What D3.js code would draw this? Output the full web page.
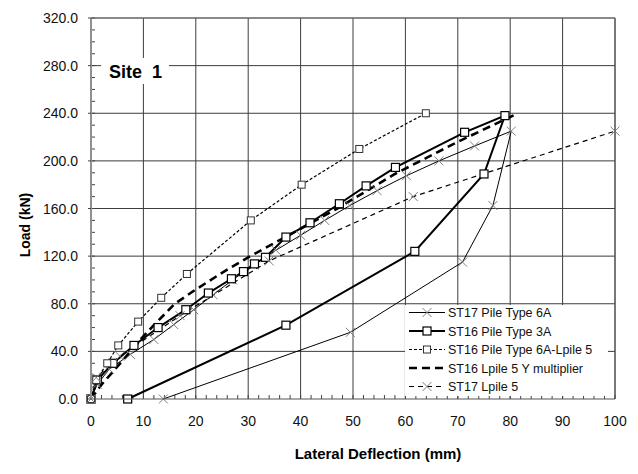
<!DOCTYPE html>
<html>
<head>
<meta charset="utf-8">
<script src="https://cdn.jsdelivr.net/npm/d3@7"></script>
<style>
  body { margin: 0; background: #fff; }
  text { font-family: Arial, "Liberation Sans", sans-serif; }
</style>
</head>
<body>
<div id="chart"></div>
<script>
// series data (deflection mm, load kN)
const st17Type6A_x = [0, 1.2, 3.5, 7.5, 12, 15.8, 19.6, 23.3, 27, 31.1, 35.3, 40, 44.6, 49.4, 54.6, 60.2, 66.4, 73.2, 80.2, 76.7, 70.9, 49.5, 13.8];
const st17Type6A_y = [0, 12.5, 25, 37.5, 50, 62.5, 75, 87.5, 100, 112.5, 125, 137.5, 150, 162.5, 175, 187.5, 200, 212.5, 225, 162.5, 115, 56, 0];

const st16Type3A_x = [0, 1.2, 4.2, 8.2, 12.8, 18.1, 22.4, 26.8, 29.1, 31.2, 33.3, 37.2, 41.8, 47.4, 52.5, 58.1, 71.3, 79, 75, 61.8, 37.2, 7];
const st16Type3A_y = [0, 16, 30, 45, 60, 75, 89, 101, 107, 113.5, 119, 136, 148, 164, 179, 194.5, 224, 238, 189, 124, 62, 0];

const st16Type6ALpile_x = [0, 1, 3.1, 5.2, 9, 13.4, 18.3, 30.5, 40.2, 51.2, 63.9];
const st16Type6ALpile_y = [0, 16, 30, 45, 65, 85, 105, 150, 180, 210, 240];

const st16YMult_x = [0, 2, 4, 6, 9, 12, 16, 20, 25, 30, 35, 40, 47, 58, 70, 81];
const st16YMult_y = [0, 12, 22, 32, 48, 62, 80, 92, 106, 119, 131, 143, 160, 189, 216, 239];

const st17Lpile_x = [0, 1, 5.5, 17, 34, 61.5, 100];
const st17Lpile_y = [0, 18, 36, 70, 116, 170, 225];

const seriesNames = ["ST17 Pile Type 6A", "ST16 Pile Type 3A", "ST16 Pile Type 6A-Lpile 5", "ST16 Lpile 5 Y multiplier", "ST17 Lpile 5"];
const xTicks = [0, 10, 20, 30, 40, 50, 60, 70, 80, 90, 100];
const yTicks = [0, 40, 80, 120, 160, 200, 240, 280, 320];

const width = 638, height = 474;
const plotL = 91, plotR = 615, plotT = 18, plotB = 399;

const x = d3.scaleLinear().domain([0, 100]).range([plotL, plotR]);
const y = d3.scaleLinear().domain([0, 320]).range([plotB, plotT]);

const svg = d3.select("#chart").append("svg")
    .attr("width", width)
    .attr("height", height);

// grid
svg.append("g").selectAll("line")
    .data(xTicks.slice(1))
    .enter().append("line")
    .attr("x1", d => x(d)).attr("x2", d => x(d))
    .attr("y1", plotT).attr("y2", plotB)
    .attr("stroke", "#3c3c3c").attr("stroke-width", 1);

svg.append("g").selectAll("line")
    .data(yTicks.slice(1))
    .enter().append("line")
    .attr("x1", plotL).attr("x2", plotR)
    .attr("y1", d => y(d)).attr("y2", d => y(d))
    .attr("stroke", "#3c3c3c").attr("stroke-width", 1);

// minor ticks, pointing inside
svg.append("g").selectAll("line")
    .data(d3.range(0, 101, 2))
    .enter().append("line")
    .attr("x1", d => x(d)).attr("x2", d => x(d))
    .attr("y1", plotB).attr("y2", plotB - 4)
    .attr("stroke", "#444");

svg.append("g").selectAll("line")
    .data(d3.range(0, 321, 10))
    .enter().append("line")
    .attr("x1", plotL).attr("x2", plotL + 4)
    .attr("y1", d => y(d)).attr("y2", d => y(d))
    .attr("stroke", "#444");

// Site label with white box
svg.append("rect")
    .attr("x", 101).attr("y", 58).attr("width", 68).attr("height", 26)
    .attr("fill", "#fff");
svg.append("text")
    .attr("x", 109).attr("y", 78)
    .attr("font-size", 18).attr("font-weight", "bold")
    .attr("xml:space", "preserve")
    .text("Site  1");

function pts(xs, ys) {
    return xs.map((v, i) => [v, ys[i]]);
}

const line = d3.line().x(d => x(d[0])).y(d => y(d[1]));

const series = [
    { name: seriesNames[0], data: pts(st17Type6A_x, st17Type6A_y), width: 1, dash: null, marker: "cross" },
    { name: seriesNames[1], data: pts(st16Type3A_x, st16Type3A_y), width: 2, dash: null, marker: "square" },
    { name: seriesNames[2], data: pts(st16Type6ALpile_x, st16Type6ALpile_y), width: 1.2, dash: "3,2", marker: "smallsquare" },
    { name: seriesNames[3], data: pts(st16YMult_x, st16YMult_y), width: 2.6, dash: "8,5", marker: null },
    { name: seriesNames[4], data: pts(st17Lpile_x, st17Lpile_y), width: 1.2, dash: "5,4", marker: "cross" }
];

function drawMarker(g, kind, cx, cy) {
    if (kind === "cross") {
        const s = 4.5;
        g.append("path")
            .attr("d", `M${cx - s},${cy - s}L${cx + s},${cy + s}M${cx - s},${cy + s}L${cx + s},${cy - s}`)
            .attr("stroke", "#808080").attr("stroke-width", 1).attr("fill", "none");
    } else if (kind === "square") {
        g.append("rect")
            .attr("x", cx - 4).attr("y", cy - 4).attr("width", 8).attr("height", 8)
            .attr("fill", "#fff").attr("stroke", "#000").attr("stroke-width", 1.2);
    } else if (kind === "smallsquare") {
        g.append("rect")
            .attr("x", cx - 3.5).attr("y", cy - 3.5).attr("width", 7).attr("height", 7)
            .attr("fill", "#fff").attr("stroke", "#333").attr("stroke-width", 1);
    }
}

series.forEach(s => {
    svg.append("path")
        .datum(s.data)
        .attr("d", line)
        .attr("fill", "none")
        .attr("stroke", "#000")
        .attr("stroke-width", s.width)
        .attr("stroke-dasharray", s.dash);
});

series.forEach(s => {
    if (!s.marker) return;
    const g = svg.append("g");
    s.data.forEach(d => drawMarker(g, s.marker, x(d[0]), y(d[1])));
});

// axes lines and border
svg.append("line").attr("x1", plotL).attr("x2", plotL).attr("y1", plotT).attr("y2", plotB)
    .attr("stroke", "#909090").attr("stroke-width", 2);
svg.append("line").attr("x1", plotL).attr("x2", plotR).attr("y1", plotB).attr("y2", plotB)
    .attr("stroke", "#555").attr("stroke-width", 1.2);
svg.append("line").attr("x1", plotL).attr("x2", plotR).attr("y1", plotT).attr("y2", plotT)
    .attr("stroke", "#777").attr("stroke-width", 1);
svg.append("line").attr("x1", plotR).attr("x2", plotR).attr("y1", plotT).attr("y2", plotB)
    .attr("stroke", "#555").attr("stroke-width", 1);

// major ticks outside on left
svg.append("g").selectAll("line")
    .data(yTicks)
    .enter().append("line")
    .attr("x1", plotL - 3).attr("x2", plotL)
    .attr("y1", d => y(d)).attr("y2", d => y(d))
    .attr("stroke", "#444");

// tick labels
svg.append("g").selectAll("text")
    .data(yTicks)
    .enter().append("text")
    .attr("x", 78).attr("y", d => y(d) + 5)
    .attr("text-anchor", "end")
    .attr("font-size", 14).attr("fill", "#111")
    .text(d => d3.format(".1f")(d));

svg.append("g").selectAll("text")
    .data(xTicks)
    .enter().append("text")
    .attr("x", d => x(d)).attr("y", 426)
    .attr("text-anchor", "middle")
    .attr("font-size", 14).attr("fill", "#111")
    .text(d => d);

// axis titles
svg.append("text")
    .attr("transform", "translate(30,225) rotate(-90)")
    .attr("text-anchor", "middle")
    .attr("font-size", 14).attr("font-weight", "bold")
    .text("Load (kN)");

svg.append("text")
    .attr("x", 378).attr("y", 459)
    .attr("text-anchor", "middle")
    .attr("font-size", 15).attr("font-weight", "bold")
    .text("Lateral Deflection (mm)");

// legend
const legend = svg.append("g");
legend.append("rect")
    .attr("x", 405).attr("y", 305).attr("width", 203).attr("height", 91)
    .attr("fill", "#fff");

const legY = d3.scaleLinear().domain([0, 4]).range([312.5, 386.5]);
series.forEach((s, i) => {
    const yy = legY(i);
    legend.append("line")
        .attr("x1", 409).attr("x2", 445).attr("y1", yy).attr("y2", yy)
        .attr("stroke", "#000").attr("stroke-width", s.width)
        .attr("stroke-dasharray", s.dash);
    if (s.marker) drawMarker(legend, s.marker, 427, yy);
    legend.append("text")
        .attr("x", 448).attr("y", yy + 4.5)
        .attr("font-size", 12.5).attr("fill", "#111")
        .text(s.name);
});
</script>
</body>
</html>
